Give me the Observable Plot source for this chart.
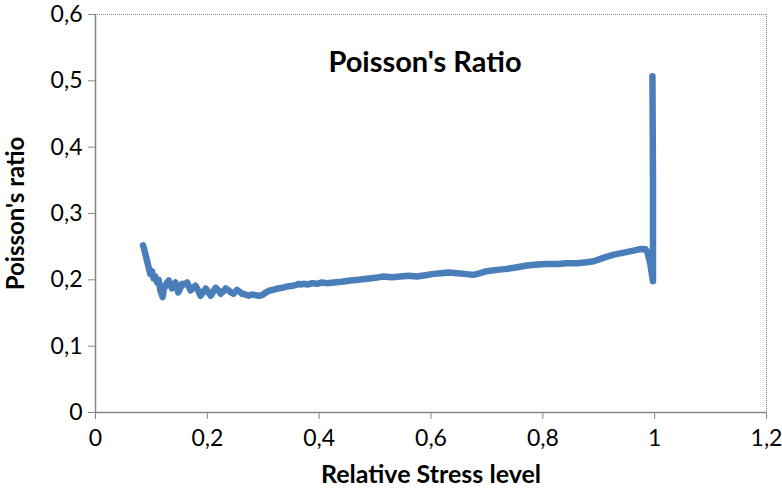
<!DOCTYPE html>
<html>
<head>
<meta charset="utf-8">
<script src="https://cdn.jsdelivr.net/npm/d3@7"></script>
<script src="https://cdn.jsdelivr.net/npm/@observablehq/plot@0.6"></script>
<style>
  html, body { margin: 0; padding: 0; background: #fff; }
  #chart svg { font-family: Lato, "Open Sans", sans-serif; }
  g[aria-label="x-axis tick label"] text, g[aria-label="y-axis tick label"] text { font-size: 23px; }
  g[aria-label="x-axis label"] text { font-weight: bold; font-size: 25px; }
  g[aria-label="y-axis label"] text { font-weight: bold; font-size: 24px; }
</style>
</head>
<body>
<div id="chart"></div>
<script>
const title = "Poisson's Ratio";
const xLabel = "Relative Stress level";
const yLabel = "Poisson's ratio";
const xTicks = [0, 0.2, 0.4, 0.6, 0.8, 1, 1.2];
const yTicks = [0, 0.1, 0.2, 0.3, 0.4, 0.5, 0.6];

const stress = [
  0.085, 0.088, 0.092, 0.095, 0.098, 0.101, 0.104, 0.107, 0.110, 0.113,
  0.116, 0.120, 0.122, 0.125, 0.128, 0.131, 0.134, 0.137, 0.140, 0.143,
  0.146, 0.148, 0.152, 0.155, 0.159, 0.164, 0.167, 0.170, 0.175, 0.179,
  0.184, 0.188, 0.193, 0.197, 0.202, 0.206, 0.211, 0.215, 0.220, 0.224,
  0.229, 0.233, 0.238, 0.242, 0.247, 0.250, 0.253, 0.258, 0.262, 0.268,
  0.274, 0.280, 0.286, 0.292, 0.298, 0.303, 0.307, 0.312, 0.318, 0.326,
  0.334, 0.343, 0.352, 0.358, 0.363, 0.368, 0.372, 0.380, 0.388, 0.396,
  0.405, 0.414, 0.426, 0.440, 0.456, 0.470, 0.486, 0.500, 0.515, 0.530,
  0.545, 0.560, 0.575, 0.590, 0.605, 0.617, 0.632, 0.647, 0.660, 0.676,
  0.688, 0.700, 0.718, 0.736, 0.754, 0.772, 0.790, 0.808, 0.826, 0.843,
  0.861, 0.879, 0.891, 0.903, 0.915, 0.927, 0.945, 0.962, 0.972, 0.980,
  0.984, 0.987, 0.992, 0.997, 0.997, 0.996
];
const poisson = [
  0.252, 0.243, 0.229, 0.219, 0.209, 0.213, 0.202, 0.205, 0.196, 0.200,
  0.184, 0.174, 0.185, 0.191, 0.196, 0.199, 0.192, 0.187, 0.193, 0.196,
  0.188, 0.181, 0.188, 0.194, 0.193, 0.196, 0.190, 0.184, 0.188, 0.191,
  0.183, 0.176, 0.182, 0.187, 0.181, 0.176, 0.183, 0.188, 0.184, 0.179,
  0.183, 0.187, 0.184, 0.181, 0.179, 0.182, 0.185, 0.182, 0.179, 0.178,
  0.176, 0.178, 0.177, 0.176, 0.177, 0.180, 0.182, 0.184, 0.185, 0.187,
  0.188, 0.190, 0.191, 0.192, 0.194, 0.193, 0.194, 0.193, 0.195, 0.194,
  0.196, 0.195, 0.196, 0.197, 0.199, 0.200, 0.2015, 0.203, 0.205, 0.204,
  0.205, 0.206, 0.205, 0.207, 0.209, 0.210, 0.211, 0.210, 0.209, 0.2075,
  0.210, 0.213, 0.215, 0.2165, 0.219, 0.2215, 0.223, 0.224, 0.224, 0.225,
  0.225, 0.2265, 0.228, 0.2315, 0.235, 0.238, 0.241, 0.244, 0.246, 0.2465,
  0.246, 0.2415, 0.225, 0.198, 0.350, 0.507
];

const data = stress.map((s, i) => ({x: s, y: poisson[i]}));
const fmt = d => String(d).replace(".", ",");
const axisGray = "#868686";

const chart = Plot.plot({
  width: 782,
  height: 488,
  marginLeft: 95,
  marginRight: 16,
  marginTop: 14,
  marginBottom: 76,
  style: {fontSize: "23px", color: "#000", background: "#fff"},
  x: {domain: [0, 1.2]},
  y: {domain: [0, 0.6]},
  marks: [
    Plot.ruleY([0.6], {stroke: axisGray, strokeDasharray: "1,1", strokeWidth: 1}),
    Plot.ruleX([1.2], {stroke: axisGray, strokeDasharray: "1,1", strokeWidth: 1}),
    Plot.axisX({ticks: xTicks, tickFormat: fmt, tickSize: 7, tickPadding: 10, stroke: axisGray, fill: "#000",
      label: xLabel, labelAnchor: "center", labelOffset: 70, labelArrow: "none"}),
    Plot.axisY({ticks: yTicks, tickFormat: fmt, tickSize: 7, tickPadding: 6, stroke: axisGray, fill: "#000",
      label: yLabel, labelAnchor: "center", labelOffset: 89, labelArrow: "none"}),
    Plot.ruleX([0], {stroke: axisGray, strokeWidth: 1.5}),
    Plot.ruleY([0], {stroke: axisGray, strokeWidth: 1.5}),
    Plot.line(data, {x: "x", y: "y", stroke: "#4A7EBB", strokeWidth: 6.5, strokeLinejoin: "round", strokeLinecap: "round"}),
    Plot.text([title], {frameAnchor: "top", dy: 37, dx: -6, fontSize: 29, fontWeight: "bold", fill: "#000"})
  ]
});
document.getElementById("chart").appendChild(chart);
</script>
</body>
</html>
